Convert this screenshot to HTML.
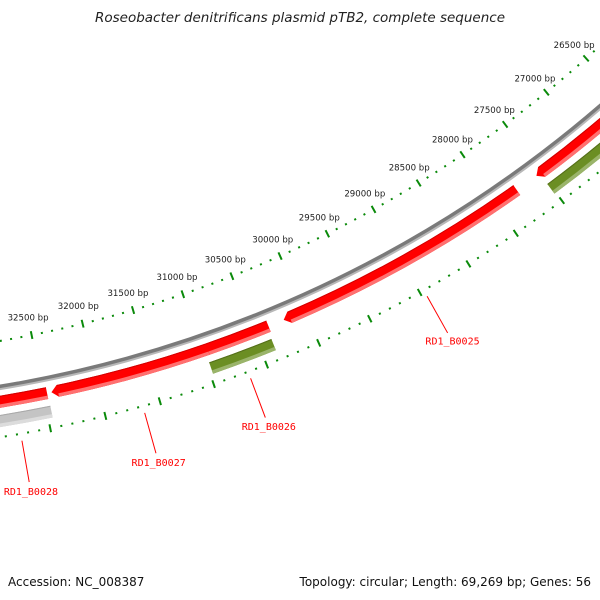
<!DOCTYPE html>
<html><head><meta charset="utf-8"><style>
body{margin:0;background:#fff}
svg{display:block}
</style></head><body>
<svg id="map" width="600" height="600" viewBox="0 0 600 600">
<rect width="600" height="600" fill="#fff"/>
<text x="300" y="22" text-anchor="middle" font-size="13.5" font-style="italic" fill="#222" style="font-family:'DejaVu Sans','Liberation Sans',sans-serif">Roseobacter denitrificans plasmid pTB2, complete sequence</text>
<g id="ticks"></g>
<g id="backbone"></g>
<g id="genes"></g>
<g id="labels"></g>
<text x="8" y="586" font-size="12" fill="#111" style="font-family:'DejaVu Sans','Liberation Sans',sans-serif">Accession: NC_008387</text>
<text x="591" y="586" text-anchor="end" font-size="12" fill="#111" style="font-family:'DejaVu Sans','Liberation Sans',sans-serif">Topology: circular; Length: 69,269 bp; Genes: 56</text>
</svg>
<script>
const geneNames=["RD1_B0024","RD1_B0025","RD1_B0025b","RD1_B0027","RD1_B0028r","RD1_B0024g","RD1_B0026","RD1_B0028"];
const geneStarts=[26000,27772,30356,30948,32466,26000,30376,32460];
const geneEnds=[27492,30147,30948,32366,34000,27516,30975,33070];
const geneTracks=[1,1,1,1,1,2,2,2];
const geneColors=["red","red","red","red","red","green","green","gray"];
const geneArrow=[true,true,true,true,false,false,false,false];
const labeled=["RD1_B0025","RD1_B0026","RD1_B0027","RD1_B0028"];
const labelGene=[1,6,3,7];
const labelMid=[null,null,null,32766];
const tickLabelValues=[26500,27000,27500,28000,28500,29000,29500,30000,30500,31000,31500,32000,32500];

const CX=-200,CY=-823;
const A0=48.27,K=0.00507;
function ang(bp){return (A0+(bp-26500)*K)*Math.PI/180;}
function pt(r,a){return [CX+r*Math.cos(a),CY+r*Math.sin(a)];}
const NS="http://www.w3.org/2000/svg";
function mk(tag,attrs,parent){const e=document.createElementNS(NS,tag);for(const k in attrs)e.setAttribute(k,attrs[k]);parent.appendChild(e);return e;}

// ticks
const tg=document.getElementById('ticks');
[1181,1276].forEach((R,ri)=>{
  for(let bp=24000;bp<=35000;bp+=100){
    const a=ang(bp),major=bp%500===0;
    const h=major?4:1;
    const p1=pt(R-h,a),p2=pt(R+h,a);
    const l=mk('line',{x1:p1[0],y1:p1[1],x2:p2[0],y2:p2[1],stroke:'#0a8a0a','stroke-width':2},tg);
    
    
  }
});
tickLabelValues.forEach(v=>{
  const p=pt(1163,ang(v));
  const t=mk('text',{x:p[0],y:p[1]+3,'text-anchor':'middle','font-size':8.6,fill:'#222',style:"font-family:'DejaVu Sans','Liberation Sans',sans-serif"},tg);
  t.textContent=v+' bp';
  
  
});

// backbone
const bb=document.getElementById('backbone');
let c1=mk('circle',{cx:CX,cy:CY,r:1226,fill:'none',stroke:'#7a7a7a','stroke-width':4},bb);


let c2=mk('circle',{cx:CX,cy:CY,r:1228.5,fill:'none',stroke:'#b8b8b8','stroke-width':2},bb);



// genes
const gg=document.getElementById('genes');
const pal={red:['#ff0000','#ff7070','#d00000'],green:['#6b8e23','#9ab46a','#556f1a'],gray:['#c4c4c4','#dcdcdc','#a8a8a8']};
function band(r1,r2,s,e,arrow){
  const a1=ang(s),a2=ang(e);
  const rm=(r1+r2)/2;
  const A=pt(r1,a1),B=pt(r1,a2),C=pt(r2,a2),D=pt(r2,a1);
  let d=`M${A[0]},${A[1]} A${r1},${r1} 0 0 1 ${B[0]},${B[1]} `;
  if(arrow){const P=pt(rm,a2+0.3*Math.PI/180);d+=`L${P[0]},${P[1]} `;}
  d+=`L${C[0]},${C[1]} A${r2},${r2} 0 0 0 ${D[0]},${D[1]} Z`;
  return d;
}
for(let i=0;i<geneNames.length;i++){
  const r=geneTracks[i]===1?1241:1260;
  const col=pal[geneColors[i]];
  const g=mk('g',{},gg);
  
  
  mk('path',{d:band(r-6,r+6,geneStarts[i],geneEnds[i],geneArrow[i]),fill:col[0]},g);
  mk('path',{d:band(r+2.5,r+6,geneStarts[i],geneEnds[i],false),fill:col[1]},g);
  mk('path',{d:band(r-6,r-5,geneStarts[i],geneEnds[i],false),fill:col[2]},g);
}

// labels
const lg=document.getElementById('labels');
labeled.forEach((name,j)=>{
  const gi=labelGene[j];
  const mid=labelMid[j]!==null?labelMid[j]:(geneStarts[gi]+geneEnds[gi])/2;
  const a=ang(mid);
  const p1=pt(1283,a),p2=pt(1325,a),p3=pt(1335,a);
  const l=mk('line',{x1:p1[0],y1:p1[1],x2:p2[0],y2:p2[1],stroke:'#ff0000','stroke-width':1},lg);
  
  
  const t=mk('text',{x:p3[0],y:p3[1]+3,'text-anchor':'middle','font-size':10,fill:'#ff0000',style:"font-family:'DejaVu Sans Mono','Liberation Mono',monospace"},lg);
  t.textContent=name;
  
  
});
</script>
</body></html>
